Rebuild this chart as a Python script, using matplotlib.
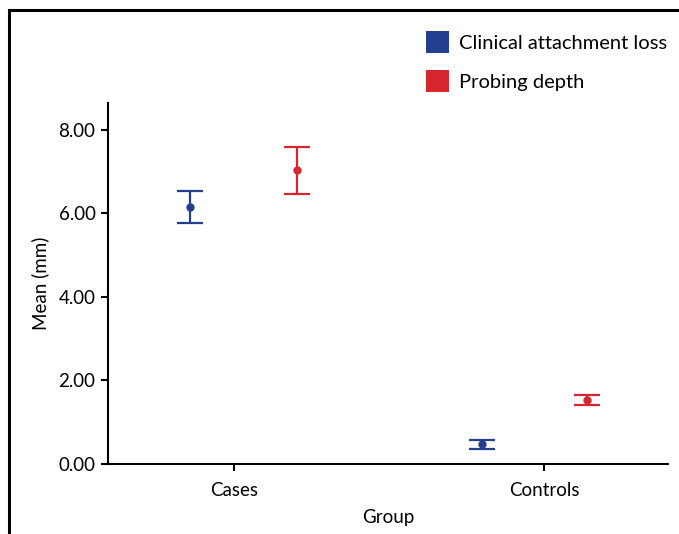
import matplotlib
matplotlib.use("Agg")
import matplotlib.pyplot as plt
from matplotlib.patches import Patch
from matplotlib.lines import Line2D

plt.rcParams['font.family'] = ['Lato', 'DejaVu Sans']

# data (mm)
groups = ['Cases', 'Controls']
series = ['Clinical attachment loss', 'Probing depth']
cal_mean = [6.15, 0.48]
cal_low = [5.76, 0.37]
cal_high = [6.54, 0.58]
pd_mean = [7.03, 1.52]
pd_low = [6.47, 1.41]
pd_high = [7.59, 1.64]
yticks = [0, 2, 4, 6, 8]

# layout
blue = '#243f8f'
red = '#d7262f'
cal_dodge = [-0.14, -0.20]
pd_dodge = [0.205, 0.14]

fig = plt.figure(figsize=(6.79, 5.34), dpi=100)
ax = fig.add_axes([108/679, 1 - 464/534, 560/679, 361/534])

xs = list(range(1, len(groups) + 1))

def draw(mean, low, high, dodge, color):
    x = [a + d for a, d in zip(xs, dodge)]
    err = [[m - l for m, l in zip(mean, low)], [h - m for m, h in zip(mean, high)]]
    ax.errorbar(x, mean, yerr=err, fmt='o', color=color, ms=5, elinewidth=1.6,
                capsize=9.7, capthick=1.6)

draw(cal_mean, cal_low, cal_high, cal_dodge, blue)
draw(pd_mean, pd_low, pd_high, pd_dodge, red)

ax.set_xlim(0.594, 2.4)
ax.set_ylim(0, 8.64)
ax.set_xticks(xs)
ax.set_xticklabels(groups)
ax.set_yticks(yticks)
ax.set_yticklabels(['%.2f' % v for v in yticks])
ax.spines['top'].set_visible(False)
ax.spines['right'].set_visible(False)
for s in ['left', 'bottom']:
    ax.spines[s].set_linewidth(1.5)
ax.tick_params(width=1.5, length=5, labelsize=13.5)
ax.tick_params(axis='x', pad=8)
ax.tick_params(axis='y', pad=4)
ax.set_xlabel('Group', fontsize=13.5, labelpad=7)
ax.set_ylabel('Mean (mm)', fontsize=13.5, labelpad=7)

handles = [Patch(facecolor=blue), Patch(facecolor=red)]
fig.legend(handles, series, loc='upper left', bbox_to_anchor=(426/679, 1 - 31/534),
           frameon=False, fontsize=14.5, handlelength=1.14, handleheight=1.3,
           labelspacing=0.85, handletextpad=0.5, borderpad=0, borderaxespad=0)

# frame of the source image
fig.add_artist(Line2D([9/679, 9/679], [0, 1 - 10/534], color='black', lw=2.2))
fig.add_artist(Line2D([9/679, 1], [1 - 10/534, 1 - 10/534], color='black', lw=2.2))

fig.savefig('out.png', dpi=100)
